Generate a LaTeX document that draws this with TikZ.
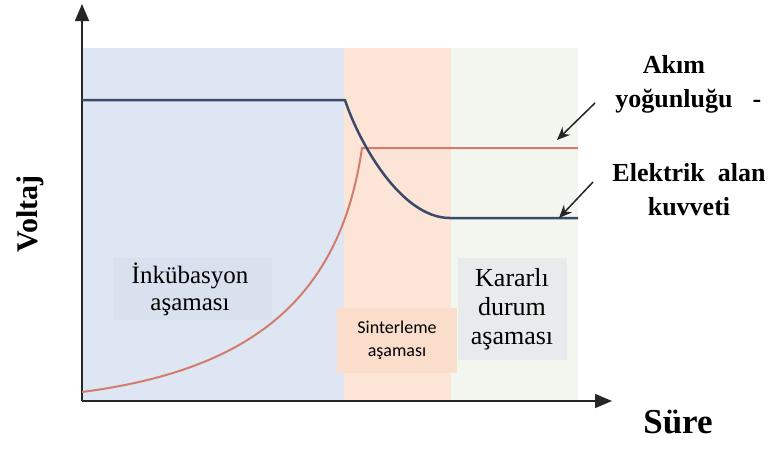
\documentclass[tikz,border=0pt]{standalone}
\usepackage{fontspec}
\setmainfont{Liberation Serif}
\newfontfamily\timesface{Liberation Serif}
\newfontfamily\labelsans{Carlito}
\usetikzlibrary{arrows.meta}

\definecolor{incbg}{HTML}{DFE6F3}
\definecolor{sinbg}{HTML}{FCE4D6}
\definecolor{stbg}{HTML}{F2F6EE}
\definecolor{incbox}{HTML}{D9E1EE}
\definecolor{sinbox}{HTML}{FADDCB}
\definecolor{stbox}{HTML}{E8EBEB}
\definecolor{fieldline}{HTML}{3B4A6B}
\definecolor{currline}{HTML}{D27D6C}

\tikzset{
  axis/.style={draw=black!85, line width=1.6pt, -{Triangle[length=17pt,width=14pt]}},
  phasebox/.style={inner sep=0pt, align=center},
  legend/.style={font=\timesface\bfseries\fontsize{26}{34}\selectfont, align=center, inner sep=0pt},
  pointer/.style={draw=black!85, line width=1.5pt, -{Stealth[length=13pt,width=11pt]}},
}

\begin{document}
\begin{tikzpicture}[x=1pt, y=-1pt]
  \useasboundingbox (0,0) rectangle (768,448);

  % phase backgrounds
  \fill[incbg] (82,48) rectangle (344,401);
  \fill[sinbg] (344,48) rectangle (451,401);
  \fill[stbg]  (451,48) rectangle (578,401);

  % phase labels on their own tinted panels
  \fill[incbox] (113,258) rectangle (272,320);
  \fill[sinbox] (337,308) rectangle (457,373);
  \fill[stbox]  (458,258) rectangle (567,360);
  \node[phasebox, font=\timesface\fontsize{25}{27}\selectfont] (inc) at (190,289) {İnkübasyon\\aşaması};
  \node[phasebox, font=\labelsans\fontsize{18}{23}\selectfont] (sin) at (397,340) {Sinterleme\\aşaması};
  \node[phasebox, font=\timesface\fontsize{26}{29}\selectfont] (st) at (512,309) {Kararlı\\durum\\aşaması};

  % axes
  \coordinate (origin) at (82,401);
  \coordinate (ytip) at (82,4);
  \coordinate (xtip) at (612,401);
  \draw[axis] (origin) -- (ytip);
  \draw[axis] (origin) -- (xtip);

  % curves
  \draw[currline, line width=2pt]
    (82,392) .. controls (250,370) and (340,300) .. (362,148) -- (578,148);
  \draw[fieldline, line width=2.5pt, line join=round]
    (82,100) -- (345,100) .. controls (358,140) and (400,218) .. (450,218) -- (578,218);

  % axis titles
  \node[font=\timesface\bfseries\fontsize{30}{30}\selectfont, rotate=90] (ylab) at (30,214) {Voltaj};
  \node[font=\timesface\bfseries\fontsize{35}{35}\selectfont] (xlab) at (678,422) {Süre};

  % legends with pointers
  \node[legend] (cur) at (674,84) {Akım\\yoğunluğu\rlap{\hspace{20pt}-}};
  \node[legend] (fld) at (689,190) {Elektrik\ \ alan\\kuvveti};
  \coordinate (curtip) at (557,140);
  \coordinate (fldtip) at (559,218);
  \coordinate (curstart) at (595,103);
  \coordinate (fldstart) at (593,182);
  \draw[pointer] (curstart) -- (curtip);
  \draw[pointer] (fldstart) -- (fldtip);
\end{tikzpicture}
\end{document}
